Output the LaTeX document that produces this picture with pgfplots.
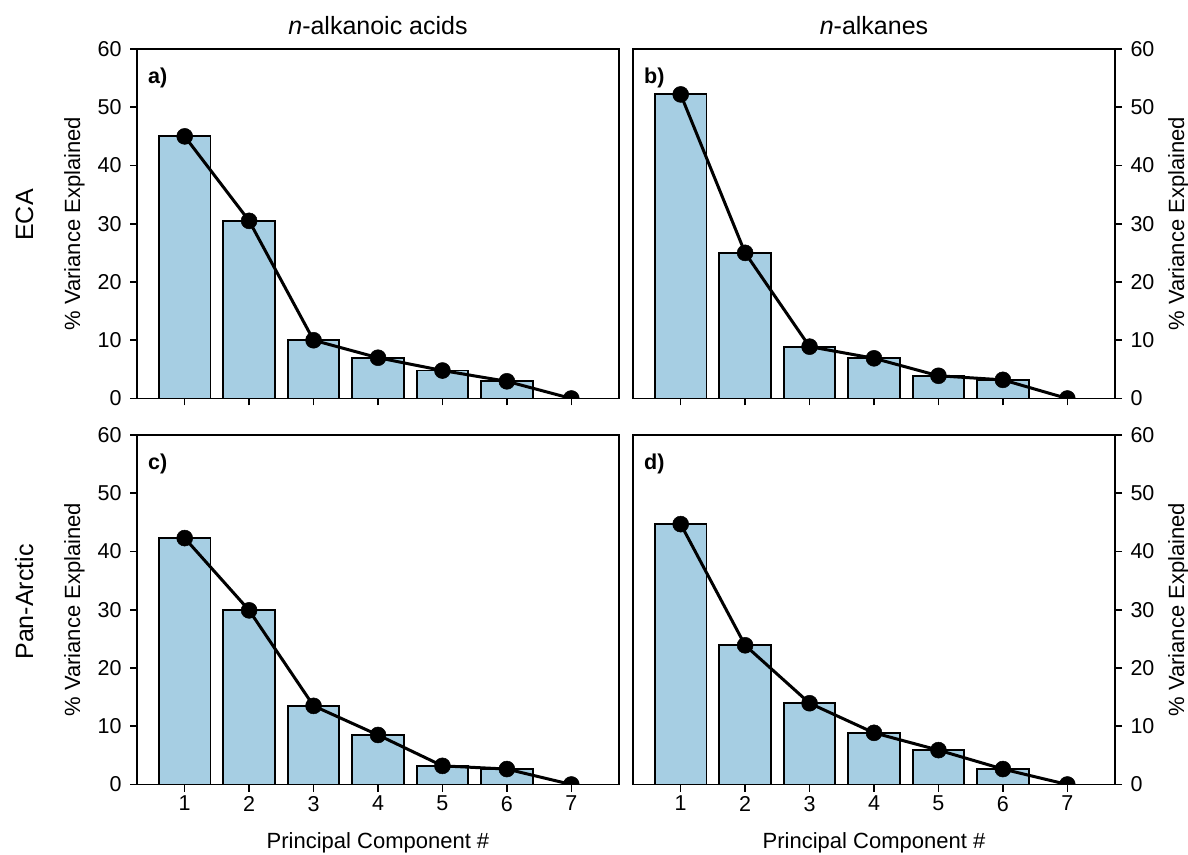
\documentclass[border=0pt]{standalone}
\usepackage{fontspec}
\setmainfont{Liberation Sans}
\usepackage{pgfplots}
\pgfplotsset{compat=1.18}
\definecolor{barblue}{HTML}{A6CEE3}
\newcommand{\tickfont}{\fontsize{21.5}{25}\selectfont}
\newcommand{\labfont}{\fontsize{22}{26}\selectfont}
\newcommand{\titfont}{\fontsize{25}{30}\selectfont}
\pgfplotsset{
  panel/.style={
    scale only axis, width=482pt, height=349.5pt,
    xmin=0.26, xmax=7.74, ymin=0, ymax=60,
    xtick={1,2,3,4,5,6,7}, ytick={0,10,20,30,40,50,60},
    xtick pos=left,
    tick align=outside, major tick length=7pt,
    every tick/.style={black, line width=1.6pt},
    axis line style={line width=1.7pt},
    ticklabel style={font=\tickfont},
    xticklabel style={yshift=-1pt},
    /pgf/number format/assume math mode=true,
    clip marker paths=true,
    axis on top,
    ylabel={\% Variance Explained},
    xlabel={Principal Component \#},
    every axis x label/.style={at={(rel axis cs:0.5,0)}, anchor=base, yshift=-63.5pt, font=\labfont},
    title style={at={(rel axis cs:0.5,1)}, anchor=base, yshift=8pt, font=\titfont},
  },
  leftpanel/.style={
    panel,
    ytick pos=left, yticklabel pos=left,
    yticklabel style={xshift=-5pt},
    every axis y label/.style={at={(rel axis cs:0,0.5)}, xshift=-57pt, rotate=90, anchor=base, font=\labfont},
  },
  rightpanel/.style={
    panel,
    ytick pos=right, yticklabel pos=right,
    yticklabel style={xshift=5pt},
    every axis y label/.style={at={(rel axis cs:1,0.5)}, xshift=69pt, rotate=90, anchor=base, font=\labfont},
  },
  bars/.style={ybar, bar width=0.8, fill=barblue, draw=black, line width=1.9pt},
  dots/.style={black, line width=3pt, mark=*, mark size=8pt, mark options={fill=black, draw=black, line width=0.5pt}},
}
\newcommand{\plabel}[1]{\node[anchor=north west, inner sep=0pt, font=\tickfont\bfseries] at ([xshift=11pt, yshift=-19pt]rel axis cs:0,1) {#1};}
\begin{document}
\begin{tikzpicture}
\useasboundingbox (0,0) rectangle (1188pt,854pt);
% a) n-alkanoic acids, ECA
\begin{axis}[leftpanel, at={(137pt,455.5pt)}, anchor=south west,
  title={\textit{n}-alkanoic acids}, xticklabels={}, xlabel={}]
\addplot[bars] coordinates {(1,45.0) (2,30.5) (3,10.0) (4,7.0) (5,4.8) (6,2.95) (7,0.0)};
\addplot[dots] coordinates {(1,45.0) (2,30.5) (3,10.0) (4,7.0) (5,4.8) (6,2.95) (7,0.0)};
\plabel{a)}
\end{axis}
% b) n-alkanes, ECA
\begin{axis}[rightpanel, at={(633pt,455.5pt)}, anchor=south west,
  title={\textit{n}-alkanes}, xticklabels={}, xlabel={}]
\addplot[bars] coordinates {(1,52.2) (2,25.0) (3,8.9) (4,6.9) (5,3.9) (6,3.2) (7,0.0)};
\addplot[dots] coordinates {(1,52.2) (2,25.0) (3,8.9) (4,6.9) (5,3.9) (6,3.2) (7,0.0)};
\plabel{b)}
\end{axis}
% c) n-alkanoic acids, Pan-Arctic
\begin{axis}[leftpanel, at={(137pt,69.5pt)}, anchor=south west]
\addplot[bars] coordinates {(1,42.3) (2,29.9) (3,13.5) (4,8.5) (5,3.2) (6,2.65) (7,0.0)};
\addplot[dots] coordinates {(1,42.3) (2,29.9) (3,13.5) (4,8.5) (5,3.2) (6,2.65) (7,0.0)};
\plabel{c)}
\end{axis}
% d) n-alkanes, Pan-Arctic
\begin{axis}[rightpanel, at={(633pt,69.5pt)}, anchor=south west]
\addplot[bars] coordinates {(1,44.7) (2,23.9) (3,13.95) (4,8.87) (5,5.9) (6,2.65) (7,0.0)};
\addplot[dots] coordinates {(1,44.7) (2,23.9) (3,13.95) (4,8.87) (5,5.9) (6,2.65) (7,0.0)};
\plabel{d)}
\end{axis}
% row labels
\node[rotate=90, anchor=base, font=\titfont] at (33pt,639pt) {ECA};
\node[rotate=90, anchor=base, font=\titfont] at (33pt,252pt) {Pan-Arctic};
\end{tikzpicture}
\end{document}
